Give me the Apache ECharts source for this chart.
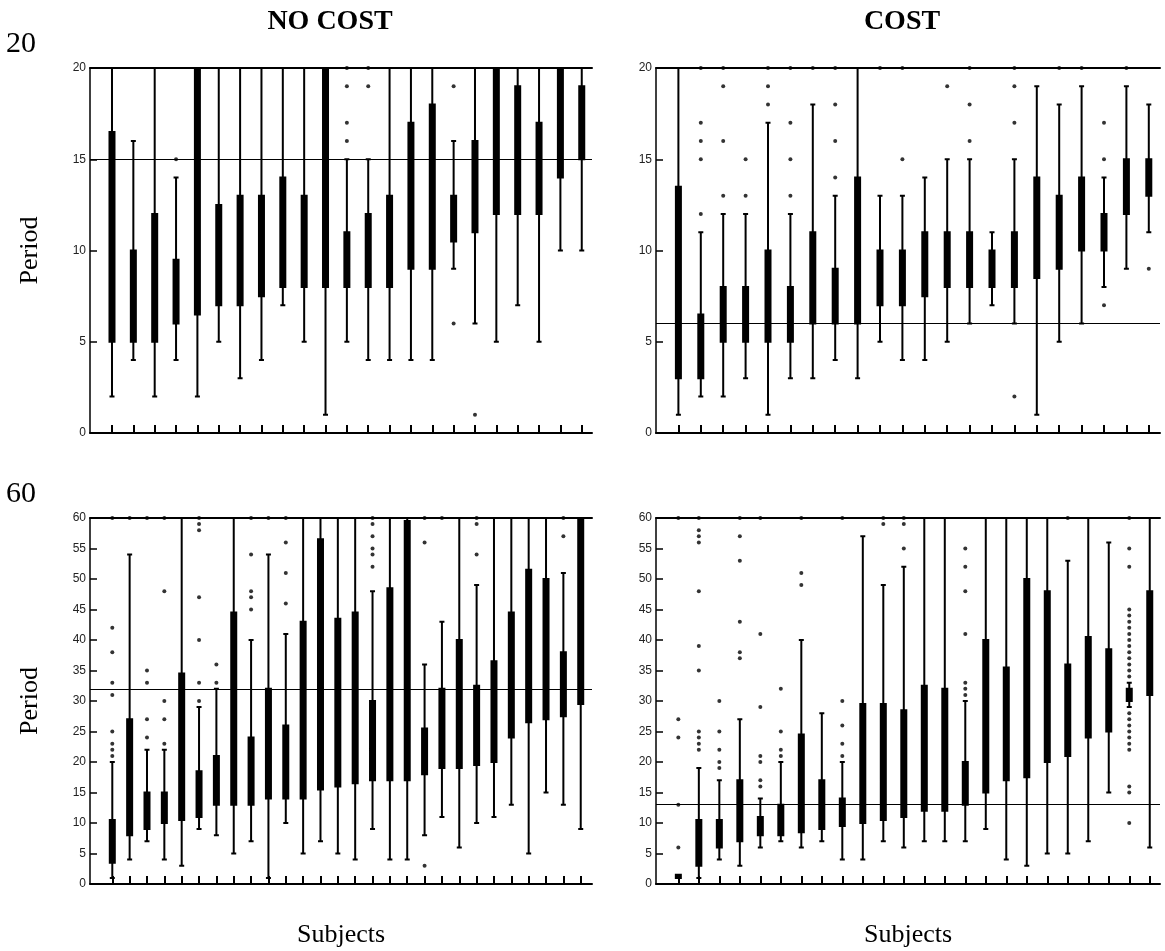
<!DOCTYPE html>
<html><head><meta charset="utf-8">
<script src="https://cdn.jsdelivr.net/npm/echarts@6/dist/echarts.min.js"></script>
<style>html,body{margin:0;padding:0;background:#fff}#c{width:1165px;height:951px}</style>
</head><body><div id="c"></div>
<script>
// ---------- DATA: each box = [lower whisker, Q1, median, Q3, upper whisker] ----------
const noCost20Box = [
  [2,5,10,16.5,20],[4,5,7,10,16],[2,5,8,12,20],[4,6,8,9.5,14],[2,6.5,11,20,20],
  [5,7,10,12.5,20],[3,7,10,13,20],[4,7.5,10,13,20],[7,8,11,14,20],[5,8,10,13,20],
  [1,8,12,20,20],[5,8,9,11,15],[4,8,10,12,15],[4,8,10,13,20],[4,9,12,17,20],
  [4,9,13,18,20],[9,10.5,12,13,16],[6,11,13,16,20],[5,12,16,20,20],[7,12,15,19,20],
  [5,12,14,17,20],[10,14,17,20,20],[10,15,17,19,20]
];
const noCost20Out = [[],[],[],[15],[],[],[],[],[],[],[],[16,17,19,20],[19,20],[],[],[],[6,19],[1],[],[],[],[],[]];
const noCost20Ref = 15;

const cost20Box = [
  [1,3,7,13.5,20],[2,3,5,6.5,11],[2,5,6,8,12],[3,5,6,8,12],[1,5,7,10,17],
  [3,5,6,8,12],[3,6,8,11,18],[4,6,7,9,13],[3,6,10,14,20],[5,7,8,10,13],
  [4,7,8,10,13],[4,7.5,9,11,14],[5,8,9,11,15],[6,8,9,11,15],[7,8,9,10,11],
  [6,8,9,11,15],[1,8.5,11,14,19],[5,9,11,13,18],[6,10,12,14,19],[8,10,11,12,14],
  [9,12,13,15,19],[11,13,14,15,18]
];
const cost20Out = [[],[12,15,16,17,20],[13,16,19,20],[13,15],[18,19,20],[13,15,17,20],[20],[14,16,18,20],[],[20],
  [15,20],[],[19],[16,18,20],[],[2,17,19,20],[],[20],[20],[7,15,17],[20],[9]];
const cost20Ref = 6;

const noCost60Box = [
  [1,3.5,7,10.5,20],[4,8,14,27,54],[7,9,12,15,22],[4,10,12,15,22],[3,10.5,18,34.5,60],
  [9,11,14,18.5,29],[8,13,17,21,32],[5,13,25,44.5,60],[7,13,17,24,40],[1,14,20,32,54],
  [10,14,19,26,41],[5,14,25,43,60],[7,15.5,32,56.5,60],[5,16,26,43.5,60],[4,16.5,27,44.5,60],
  [9,17,22,30,48],[4,17,30,48.5,60],[4,17,33,59.5,60],[8,18,21,25.5,36],[11,19,25,32,43],
  [6,19,28,40,60],[10,19.5,25,32.5,49],[11,20,27,36.5,60],[13,24,34,44.5,60],[5,26.5,39,51.5,60],
  [15,27,38,50,60],[13,27.5,32,38,51],[9,29.5,45,60,60]
];
const noCost60Out = [[21,22,23,25,31,33,38,42,60],[60],[24,27,33,35,60],[23,27,30,48,60],[],
  [30,33,40,47,58,59,60],[33,36],[],[45,47,48,54,60],[60],
  [46,51,56,60],[],[],[],[],
  [52,54,55,57,59,60],[],[],[3,56,60],[60],
  [],[54,59,60],[],[],[],
  [],[57,60],[]];
const noCost60Ref = 32;

const cost60Box = [
  [1,1,1,1.5,1.5],[1,3,6,10.5,19],[4,6,8,10.5,17],[3,7,10,17,27],[6,8,9,11,14],
  [7,8,10,13,20],[6,8.5,13,24.5,40],[7,9,12,17,28],[4,9.5,11,14,20],[4,10,16,29.5,57],
  [7,10.5,17,29.5,49],[6,11,17,28.5,52],[7,12,19,32.5,60],[7,12,18,32,60],[7,13,15,20,30],
  [9,15,25,40,60],[4,17,24,35.5,60],[3,17.5,32,50,60],[5,20,33,48,60],[5,21,28,36,53],
  [7,24,32,40.5,60],[15,25,32,38.5,56],[29,30,31,32,33],[6,31,38,48,60]
];
const cost60Out = [[6,13,24,27,60],[22,23,24,25,35,39,48,56,57,58,60],[19,20,22,25,30],[37,38,43,53,57,60],[16,17,20,21,29,41,60],
  [21,22,25,32],[49,51,60],[],[21,23,26,30,60],[],
  [59,60],[55,59,60],[],[],[31,32,33,41,48,52,55],
  [],[],[],[],[60],
  [],[],[10,15,16,22,23,24,25,26,27,28,34,35,36,37,38,39,40,41,42,43,44,45,52,55,60],[]];
const cost60Ref = 13;

const yMax20 = 20, yMax60 = 60, yStep = 5;

// ---------- LAYOUT ----------
const panels = [
  {box:noCost20Box, out:noCost20Out, ref:noCost20Ref, yMax:yMax20, xMin:-0.03, xMax:23.48, grid:{left:90,top:68,width:502,height:365}, period:true, subjects:false},
  {box:cost20Box, out:cost20Out, ref:cost20Ref, yMax:yMax20, xMin:0, xMax:22.5, grid:{left:656,top:68,width:504,height:365}, period:false, subjects:false},
  {box:noCost60Box, out:noCost60Out, ref:noCost60Ref, yMax:yMax60, xMin:-0.285, xMax:28.65, grid:{left:90,top:518,width:502,height:366}, period:true, subjects:true},
  {box:cost60Box, out:cost60Out, ref:cost60Ref, yMax:yMax60, xMin:-0.09, xMax:24.5, grid:{left:656,top:518,width:504,height:366}, period:false, subjects:true}
];

const serif = '"Liberation Serif","Times New Roman",serif';
const sans = '"Liberation Sans",Arial,sans-serif';
const grid = [], xAxis = [], yAxis = [], series = [];

panels.forEach((p, i) => {
  const subj = p.box.map((b, k) => k + 1);
  grid.push(p.grid);
  xAxis.push({
    type:'value', gridIndex:i, min:p.xMin, max:p.xMax, position:'bottom',
    axisLine:{show:true, onZero:false, lineStyle:{color:'#000', width:2}},
    axisTick:{show:true, inside:true, length:8, customValues:subj, lineStyle:{color:'#000', width:2}},
    axisLabel:{show:false}, splitLine:{show:false},
    name:p.subjects ? 'Subjects' : '', nameLocation:'middle', nameGap:38,
    nameTextStyle:{fontFamily:serif, fontSize:26, color:'#000'}
  });
  xAxis.push({
    type:'value', gridIndex:i, min:p.xMin, max:p.xMax, position:'top',
    axisLine:{show:true, onZero:false, lineStyle:{color:'#000', width:2}},
    axisTick:{show:false}, axisLabel:{show:false}, splitLine:{show:false}
  });
  yAxis.push({
    type:'value', gridIndex:i, min:0, max:p.yMax, interval:yStep,
    axisLine:{show:true, onZero:false, lineStyle:{color:'#000', width:1.5}},
    axisTick:{show:true, inside:true, length:7, lineStyle:{color:'#000', width:1.5}},
    axisLabel:{fontFamily:sans, fontSize:12, color:'#222', margin:4},
    splitLine:{show:false},
    name:p.period ? 'Period' : '', nameLocation:'middle', nameGap:47, nameRotate:90,
    nameTextStyle:{fontFamily:serif, fontSize:26, color:'#000'}
  });
  series.push({
    type:'boxplot', xAxisIndex:2 * i, yAxisIndex:i, silent:true, animation:false,
    boxWidth:[5,5],
    itemStyle:{color:'#000', borderColor:'#000', borderWidth:2},
    data:p.box.map((b, k) => [k + 1].concat(b))
  });
  const pts = [];
  p.out.forEach((arr, k) => arr.forEach(v => pts.push([k + 1, v])));
  series.push({
    type:'scatter', xAxisIndex:2 * i, yAxisIndex:i, silent:true, animation:false,
    symbol:'circle', symbolSize:4, itemStyle:{color:'#000'}, data:pts,
    markLine:{silent:true, symbol:'none', animation:false, label:{show:false},
      lineStyle:{color:'#000', width:1, type:'solid'}, data:[{yAxis:p.ref}]}
  });
});

const chart = echarts.init(document.getElementById('c'), null, {renderer:'canvas'});
chart.setOption({
  animation:false, backgroundColor:'#fff',
  grid, xAxis, yAxis, series,
  graphic:[
    {type:'text', x:330, y:22, style:{text:'NO COST', font:'bold 28px ' + serif, fill:'#000', textAlign:'center', textVerticalAlign:'middle'}},
    {type:'text', x:902, y:22, style:{text:'COST', font:'bold 28px ' + serif, fill:'#000', textAlign:'center', textVerticalAlign:'middle'}},
    {type:'text', x:6, y:44, style:{text:'20', font:'30px ' + serif, fill:'#000', textVerticalAlign:'middle'}},
    {type:'text', x:6, y:494, style:{text:'60', font:'30px ' + serif, fill:'#000', textVerticalAlign:'middle'}}
  ]
});
</script></body></html>
